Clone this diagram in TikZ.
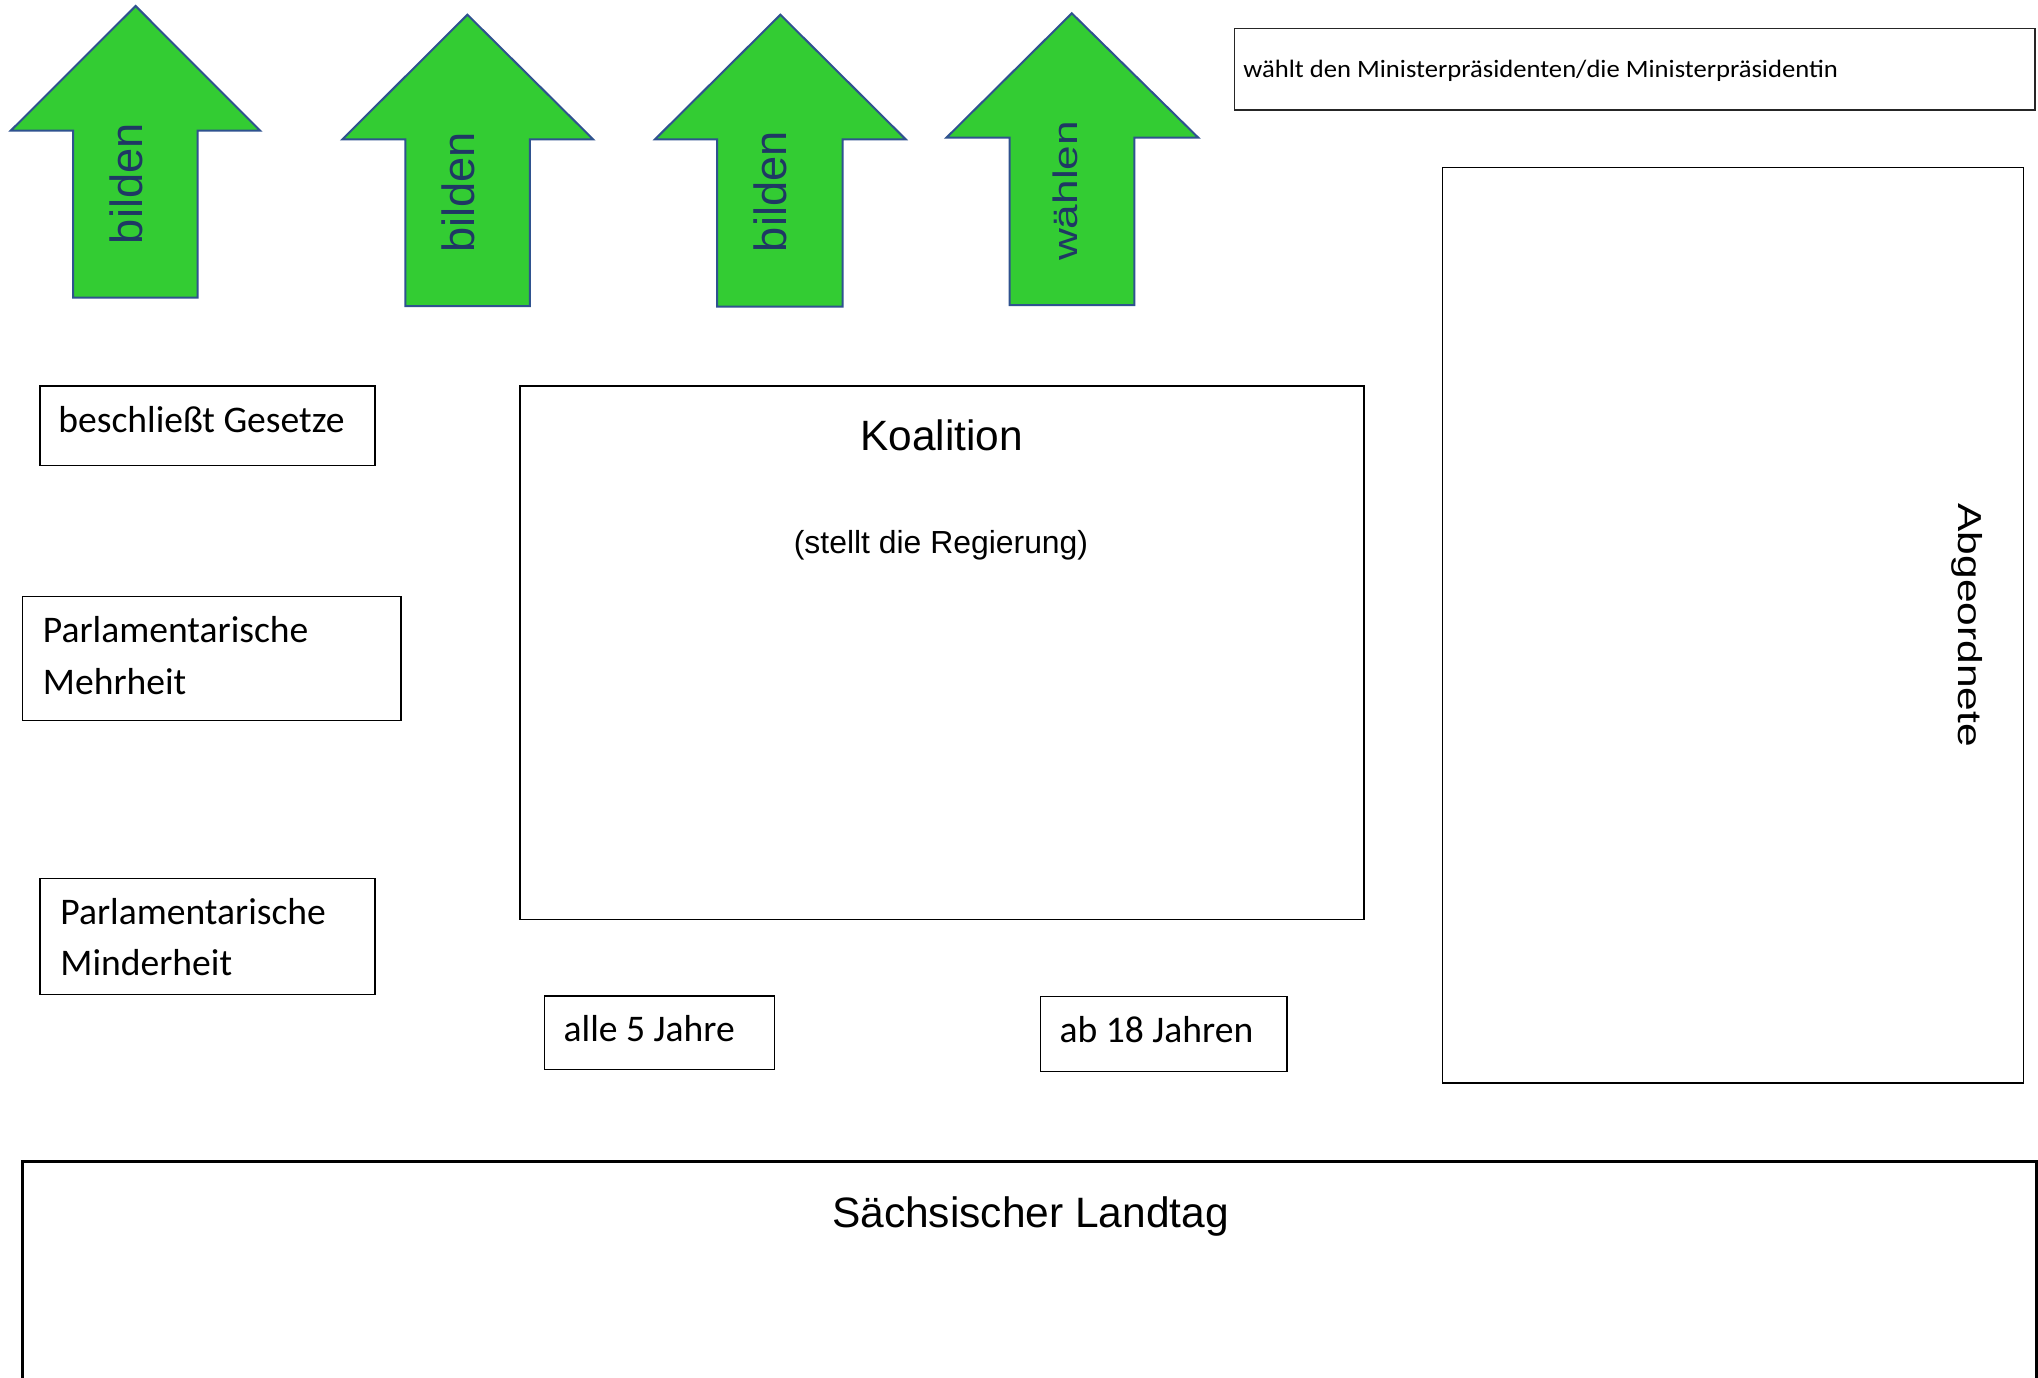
\documentclass[tikz,border=0pt]{standalone}
\usepackage{fontspec}
\setmainfont{Liberation Sans}
\newfontfamily\calfont{Carlito}
\definecolor{arrowfill}{RGB}{51,204,51}
\definecolor{arrowline}{RGB}{47,82,143}
\definecolor{arrowtext}{RGB}{31,56,100}
\begin{document}
\begin{tikzpicture}[x=0.5pt,y=-0.5pt,
  frame/.style={draw=black, line width=0.65pt, inner sep=0, outer sep=0, rectangle},
  arrowshape/.style={fill=arrowfill, draw=arrowline, line width=1pt, line join=miter},
  arrowlabel/.style={rotate=90, anchor=base, inner sep=0, text=arrowtext, font=\fontsize{22.6pt}{27pt}\selectfont},
  calib/.style={anchor=base west, inner sep=0, font=\calfont\fontsize{18.8pt}{22pt}\selectfont},
  arial/.style={anchor=base, inner sep=0}
  ]
\useasboundingbox (0,0) rectangle (2038,1377);
\fill[white] (0,0) rectangle (2038,1377);

% arrows
\draw[arrowshape] (135.6,6) coordinate (a1) -- (260.2,130.7) -- (197.7,130.7) -- (197.7,297.7) -- (73.2,297.7) -- (73.2,130.7) -- (10.7,130.7) -- cycle;
\draw[arrowshape] (467.4,14.7) coordinate (a2) -- (593.1,139.3) -- (529.9,139.3) -- (529.9,306) -- (405.3,306) -- (405.3,139.3) -- (342.4,139.3) -- cycle;
\draw[arrowshape] (780.4,14.7) coordinate (a3) -- (905.7,139.3) -- (842.5,139.3) -- (842.5,306.7) -- (717.1,306.7) -- (717.1,139.3) -- (655,139.3) -- cycle;
\draw[arrowshape] (1071.8,13.3) coordinate (a4) -- (1198.3,137.7) -- (1134.3,137.7) -- (1134.3,305) -- (1009.7,305) -- (1009.7,137.7) -- (946.4,137.7) -- cycle;

\node[arrowlabel] (l1) at (142,183.8) {bilden};
\node[arrowlabel] (l2) at (474,192.5) {bilden};
\node[arrowlabel] (l3) at (786,191.8) {bilden};
\node[arrowlabel, font=\fontsize{17pt}{20pt}\selectfont] (l4) at (1077.5,190.9) {\scalebox{1.3}[1]{wählen}};

% boxes
\node[frame, draw=black!85, minimum width=400.2pt, minimum height=40.85pt] (wahlbox) at (1634.8,69.15) {};
\node[frame, minimum width=290.5pt, minimum height=457.7pt] (abgbox) at (1733.2,625.3) {};
\node[frame, minimum width=422pt, minimum height=266.7pt] (koalbox) at (942,652.7) {};
\node[frame, minimum width=167.5pt, minimum height=39.55pt] (beschbox) at (207.5,425.65) {};
\node[frame, minimum width=189.15pt, minimum height=62.1pt] (mehrbox) at (211.85,658.6) {};
\node[frame, minimum width=167.5pt, minimum height=57.9pt] (minderbox) at (207.5,936.4) {};
\node[frame, minimum width=115.2pt, minimum height=36.65pt] (allebox) at (659.6,1032.65) {};
\node[frame, minimum width=123.3pt, minimum height=37.5pt] (abbox) at (1163.7,1034.2) {};
\node[frame, line width=1.35pt, minimum width=1007pt, minimum height=119.15pt] (landbox) at (1029.7,1280.85) {};

% texts
\node[calib, font=\calfont\fontsize{12.5pt}{15pt}\selectfont] (wahltxt) at (1243,77.3) {\scalebox{1.065}[1]{wählt den Ministerpräsidenten/die Ministerpräsidentin}};
\node[calib] (beschtxt) at (58,432.4) {beschließt Gesetze};
\node[calib] (mehr1) at (42.5,642.8) {Parlamentarische};
\node[calib] (mehr2) at (42.5,694.6) {Mehrheit};
\node[calib] (minder1) at (60,924) {Parlamentarische};
\node[calib] (minder2) at (60,975) {Minderheit};
\node[calib] (alletxt) at (563.3,1041.7) {alle 5 Jahre};
\node[calib] (abtxt) at (1059.2,1042.5) {ab 18 Jahren};

\node[arial, font=\fontsize{21.2pt}{25pt}\selectfont] (koaltxt) at (941.5,450.6) {Koalition};
\node[arial, font=\fontsize{15.95pt}{19pt}\selectfont] (regtxt) at (941,553) {(stellt die Regierung)};
\node[arial, font=\fontsize{21.25pt}{25pt}\selectfont] (landtxt) at (1030.5,1227.3) {Sächsischer Landtag};
\node[arial, rotate=-90, font=\fontsize{16.6pt}{20pt}\selectfont] (abgtxt) at (1958.3,625.3) {\scalebox{1.28}[1]{Abgeordnete}};
\end{tikzpicture}
\end{document}
